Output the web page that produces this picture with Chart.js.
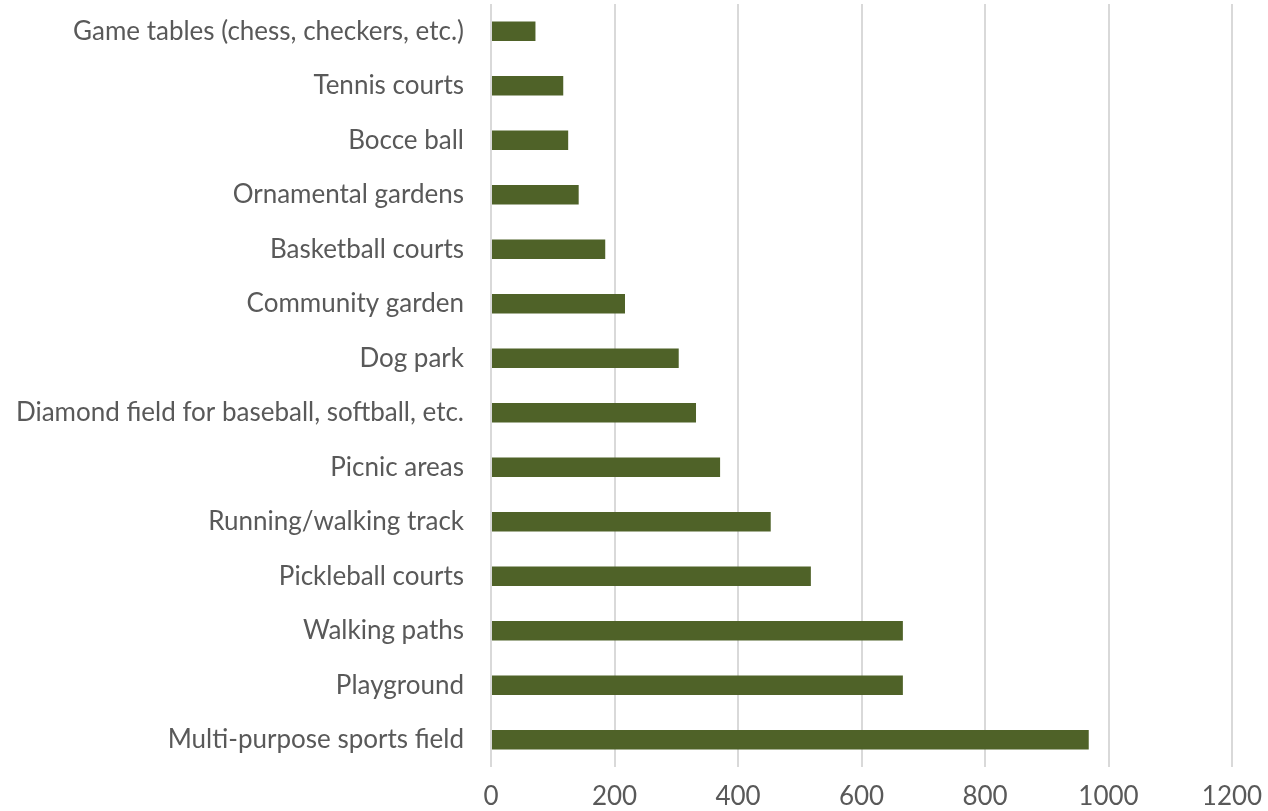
<!DOCTYPE html>
<html>
<head>
<meta charset="utf-8">
<script src="https://cdn.jsdelivr.net/npm/chart.js@4"></script>
<style>
  html, body { margin: 0; padding: 0; background: #fff; }
  #wrap { width: 1268px; height: 811px; }
</style>
</head>
<body>
<div id="wrap"><canvas id="amenityChart"></canvas></div>
<script>
const categories = [
    'Game tables (chess, checkers, etc.)',
    'Tennis courts',
    'Bocce ball',
    'Ornamental gardens',
    'Basketball courts',
    'Community garden',
    'Dog park',
    'Diamond field for baseball, softball, etc.',
    'Picnic areas',
    'Running/walking track',
    'Pickleball courts',
    'Walking paths',
    'Playground',
    'Multi-purpose sports field'
];
const responses = [72, 117, 125, 142, 185, 217, 304, 332, 371, 453, 518, 667, 667, 968];
const xTicks = [0, 200, 400, 600, 800, 1000, 1200];

const labelFont = { family: 'Lato', size: 26 };
const textColor = '#595959';
const gridColor = '#d9d9d9';

const ctx = document.getElementById('amenityChart').getContext('2d');
new Chart(ctx, {
    type: 'bar',
    data: {
        labels: categories,
        datasets: [{
            label: 'Responses',
            data: responses,
            backgroundColor: '#4f6228',
            borderWidth: 0,
            barPercentage: 0.36,
            categoryPercentage: 1
        }]
    },
    options: {
        indexAxis: 'y',
        responsive: true,
        maintainAspectRatio: false,
        animation: false,
        layout: { padding: { top: 4, right: 36, left: 0, bottom: 0 } },
        plugins: {
            legend: { display: false },
            tooltip: { enabled: false }
        },
        scales: {
            x: {
                min: 0,
                max: 1200,
                afterBuildTicks: axis => { axis.ticks = xTicks.map(v => ({ value: v })); },
                afterFit: axis => {
                    axis.height = 44;
                    axis.paddingLeft = 0;
                    axis.paddingRight = 0;
                },
                grid: { color: gridColor, lineWidth: 2, drawTicks: false },
                border: { display: false },
                ticks: {
                    color: textColor,
                    font: labelFont,
                    padding: 14,
                    callback: v => String(v)
                }
            },
            y: {
                afterFit: axis => {
                    axis.width = 491;
                    axis.paddingTop = 0;
                    axis.paddingBottom = 0;
                },
                grid: { display: false, drawTicks: false },
                border: { display: false },
                ticks: { color: textColor, font: labelFont, padding: 27, autoSkip: false }
            }
        }
    }
});
</script>
</body>
</html>
